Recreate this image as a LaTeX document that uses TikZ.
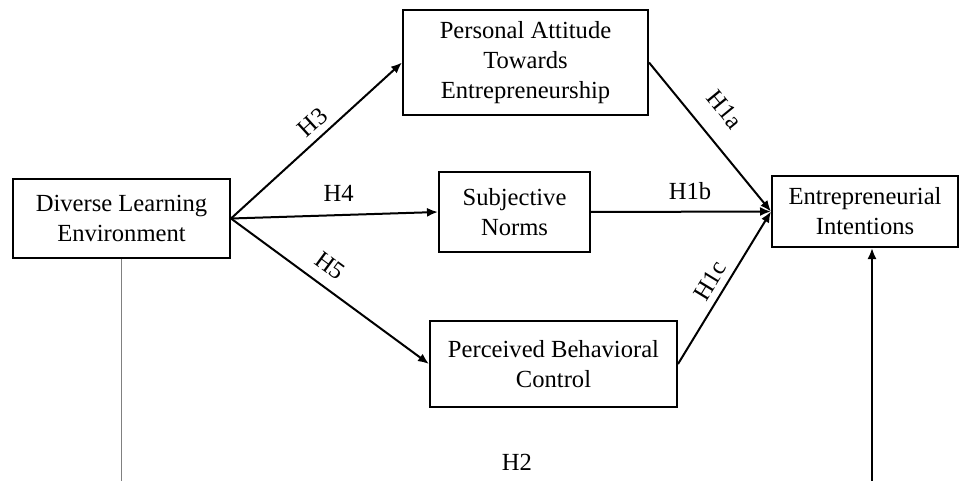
\documentclass[tikz,border=0pt]{standalone}
\usepackage{fontspec}
\setmainfont{Liberation Serif}
\usetikzlibrary{arrows.meta}

\begin{document}
\begin{tikzpicture}[x=0.5pt, y=-0.5pt,
    font=\fontsize{12.3}{15}\selectfont,
    box/.style={draw, line width=1pt, align=center, inner sep=0pt},
    path/.style={-{Latex[length=5.5pt, width=4.5pt]}, line width=1pt}]
      \useasboundingbox (0,0) rectangle (959,481);
      \node[box, minimum width=108.5pt, minimum height=39.5pt] (dle) at (121.5, 218.5) {Diverse Learning\\Environment};
      \node[box, minimum width=122.5pt, minimum height=52.5pt] (pate) at (525.5, 62.5) {Personal Attitude\\Towards\\Entrepreneurship};
      \node[box, minimum width=75.5pt, minimum height=40pt] (sn) at (514.5, 212) {Subjective\\Norms};
      \node[box, minimum width=123.5pt, minimum height=43pt] (pbc) at (553.5, 364) {Perceived Behavioral\\Control};
      \node[box, minimum width=93pt, minimum height=35.5pt] (ei) at (865, 211.5) {Entrepreneurial\\Intentions};
      \coordinate (dlefoot) at (121, 481);
      \coordinate (eifoot) at (872, 481);
      \node (h2) at (517, 462) {H2};
      \draw[path] (dle.east) -- node [pos=0.54, above, sloped] {H3} (pate.west);
      \draw[path] (dle.east) -- node [pos=0.52, above=3pt] {H4} (sn.west);
      \draw[path] (dle.east) -- node [pos=0.44, above=2.5pt, sloped] {H5} (pbc.west);
      \draw[path] (pate.east) -- node [pos=0.44, above=6.5pt, sloped] {H1a} (ei.west);
      \draw[path] (sn.east) -- node [pos=0.55, above=2pt] {H1b} (ei.west);
      \draw[path] (pbc.east) -- node [pos=0.49, above, sloped] {H1c} (ei.west);
      \draw[gray, line width=0.5pt] (dle.south -| dlefoot) -- (dlefoot);
      \draw[path] (eifoot) -- (eifoot |- ei.south);
   \end{tikzpicture}
\end{document}
